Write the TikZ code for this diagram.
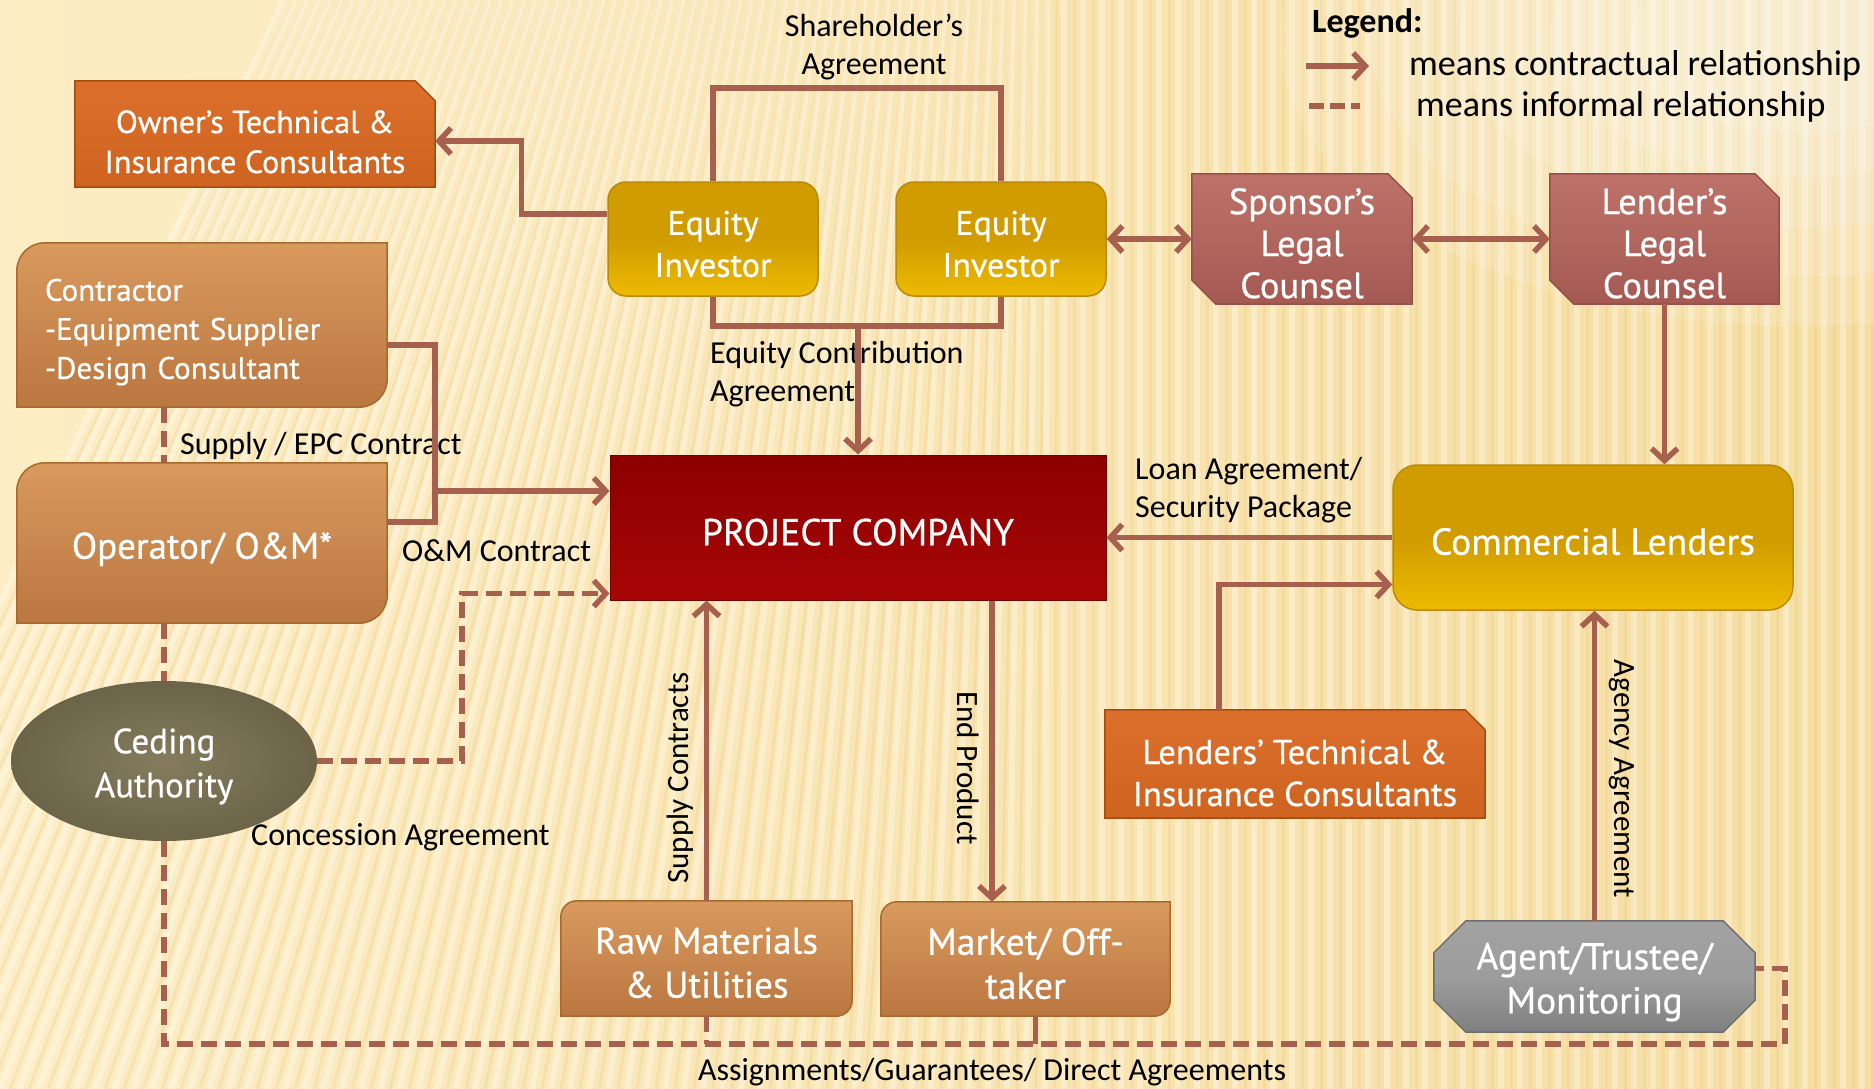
\documentclass[tikz,border=0pt]{standalone}
\usepackage{fontspec}
\setmainfont{Carlito}
\newfontfamily\boxfont[FakeBold=0.6]{PT Sans}
\usetikzlibrary{arrows.meta,shapes.geometric}

\definecolor{linkc}{HTML}{A8604E}
\definecolor{bgA}{HTML}{FCEDC4}
\definecolor{bgB}{HTML}{F6DEA2}
\definecolor{stripeD}{HTML}{E6C27A}
\definecolor{goldT}{HTML}{D09C00}
\definecolor{goldB}{HTML}{EDBA00}
\definecolor{goldE}{HTML}{B88A08}
\definecolor{redT}{HTML}{8C0000}
\definecolor{redB}{HTML}{A80606}
\definecolor{oraT}{HTML}{DC6F2C}
\definecolor{oraM}{HTML}{C4580F}
\definecolor{oraB}{HTML}{CE6420}
\definecolor{oraE}{HTML}{A24C0E}
\definecolor{tanT}{HTML}{D99A5E}
\definecolor{tanB}{HTML}{BA7740}
\definecolor{tanE}{HTML}{A8692F}
\definecolor{rosT}{HTML}{BD7269}
\definecolor{rosB}{HTML}{A45A53}
\definecolor{rosE}{HTML}{94504A}
\definecolor{oliI}{HTML}{857C5E}
\definecolor{oliO}{HTML}{6C6448}
\definecolor{gryT}{HTML}{A2A2A2}
\definecolor{gryB}{HTML}{808080}
\definecolor{gryE}{HTML}{6E6E6E}

\pgfdeclarelayer{backdrop}
\pgfdeclarelayer{boxes}
\pgfsetlayers{backdrop,boxes,main}

% invisible strut that sets the height of a box's first text line
\newcommand{\lineup}[1]{\rule{0pt}{#1}}

% box outlines built on the anchors of an (invisible) rectangular node
\newcommand{\diagroundbox}[3]{\path[#3] ([yshift=-#2]#1.north west)
  arc[start angle=180,end angle=90,radius=#2] -- (#1.north east)
  -- ([yshift=#2]#1.south east) arc[start angle=0,end angle=-90,radius=#2]
  -- (#1.south west) -- cycle;}
\newcommand{\cornerbox}[3]{\path[#3] (#1.north west) -- ([xshift=-#2]#1.north east)
  -- ([yshift=-#2]#1.north east) -- (#1.south east) -- (#1.south west) -- cycle;}
\newcommand{\twocutbox}[3]{\path[#3] (#1.north west) -- ([xshift=-#2]#1.north east)
  -- ([yshift=-#2]#1.north east) -- (#1.south east) -- ([xshift=#2]#1.south west)
  -- ([yshift=#2]#1.south west) -- cycle;}
\newcommand{\octbox}[3]{\path[#3] ([xshift=#2]#1.north west) -- ([xshift=-#2]#1.north east)
  -- ([yshift=-#2]#1.north east) -- ([yshift=#2]#1.south east)
  -- ([xshift=-#2]#1.south east) -- ([xshift=#2]#1.south west)
  -- ([yshift=#2]#1.south west) -- ([yshift=-#2]#1.north west) -- cycle;}

\begin{document}
\begin{tikzpicture}[x=1pt,y=-1pt,
  frame/.style={rectangle,inner sep=0pt,align=center,text=white},
  goldbox/.style={frame,rounded corners=18pt,top color=goldT,bottom color=goldB,
    middle color=goldT,draw=goldE,line width=1.5pt},
  orafill/.style={top color=oraT,middle color=oraM,bottom color=oraB,draw=oraE,line width=1.5pt},
  tanfill/.style={top color=tanT,bottom color=tanB,draw=tanE,line width=1.5pt},
  rosfill/.style={top color=rosT,bottom color=rosB,draw=rosE,line width=1.5pt},
  gryfill/.style={top color=gryT,bottom color=gryB,middle color=gryT!85!gryB,draw=gryE,line width=1.5pt},
  lbl/.style={inner sep=0pt,text=black,font=\fontsize{32}{38}\selectfont},
  rlbl/.style={inner sep=0pt,text=black,font=\fontsize{31}{36}\selectfont},
  link/.style={draw=linkc,line width=5.5pt},
  tip/.style={-{Straight Barb[length=12pt,width=26pt]}},
  arr/.style={link,tip},
  both/.style={link,{Straight Barb[length=12pt,width=26pt]}-{Straight Barb[length=12pt,width=26pt]}},
  dashlink/.style={link,dash pattern=on 16pt off 8pt},
]
\useasboundingbox (0,0) rectangle (1874,1089);

% ---------- backdrop: warm paper with soft stripes ----------
\begin{pgfonlayer}{backdrop}
\begin{scope}
\clip (0,0) rectangle (1874,1089);
\path[left color=bgA,right color=bgB] (0,0) rectangle (1874,1089);
\foreach \i in {-12,...,100}{
  \pgfmathsetmacro{\xb}{\i*19}
  \pgfmathsetmacro{\sh}{max(0,420*(1-\xb/1050))}
  \draw[white,opacity=0.32,line width=6pt] (\xb,1089) -- ({\xb+\sh},0);
  \draw[stripeD,opacity=0.22,line width=3pt] ({\xb+10},1089) -- ({\xb+10+\sh},0);
}
\foreach \r in {520,430,340,250,170}{
  \fill[white,opacity=0.13] (1800,40) ellipse[x radius=\r pt,y radius=\r*0.55pt];
}
\end{scope}
\end{pgfonlayer}

% ---------- nodes ----------
\node[frame,font=\boxfont\fontsize{32}{40}\selectfont,minimum width=360pt,minimum height=106pt] (own) at (255,134)
  {\lineup{1.2em}Owner’s Technical \&\\Insurance Consultants};
\node[goldbox,font=\boxfont\fontsize{34}{42}\selectfont,minimum width=210pt,minimum height=114pt] (ei1) at (713,239)
  {\lineup{1em}Equity\\Investor};
\node[goldbox,font=\boxfont\fontsize{34}{42}\selectfont,minimum width=210pt,minimum height=114pt] (ei2) at (1001,239)
  {\lineup{1em}Equity\\Investor};
\node[frame,font=\boxfont\fontsize{36.5}{42}\selectfont,minimum width=220pt,minimum height=130pt] (spl) at (1302,239)
  {\lineup{0.95em}Sponsor’s\\Legal\\Counsel};
\node[frame,font=\boxfont\fontsize{36.5}{42}\selectfont,minimum width=229pt,minimum height=130pt] (lpl) at (1664.5,239)
  {\lineup{0.95em}Lender’s\\Legal\\Counsel};
\node[frame,font=\boxfont\fontsize{31}{39}\selectfont,align=left,text width=314pt,
  minimum width=370pt,minimum height=164pt] (con) at (202,325)
  {\lineup{1.17em}Contractor\\-Equipment Supplier\\-Design Consultant};
\node[frame,font=\boxfont\fontsize{37}{44}\selectfont,minimum width=370pt,minimum height=160pt] (opr) at (202,543)
  {\lineup{1.05em}Operator/ O\&M*};
\node[frame,top color=redT,bottom color=redB,draw=redT!80!black,line width=1pt,
  font=\boxfont\fontsize{37.5}{42}\selectfont,minimum width=496pt,minimum height=145pt] (pc) at (858,527.5)
  {\lineup{0.96em}PROJECT COMPANY};
\node[goldbox,rounded corners=24pt,font=\boxfont\fontsize{37.5}{42}\selectfont,
  minimum width=400pt,minimum height=145pt] (cl) at (1593,537.5)
  {\lineup{0.93em}Commercial Lenders};
\node[ellipse,inner sep=0pt,align=center,text=white,font=\boxfont\fontsize{35}{44}\selectfont,
  minimum width=306pt,minimum height=160pt,inner color=oliI,outer color=oliO] (ca) at (164,761)
  {\lineup{1.02em}Ceding\\Authority};
\node[frame,font=\boxfont\fontsize{37}{44}\selectfont,minimum width=291pt,minimum height=115pt] (rm) at (706.5,958.5)
  {\lineup{0.94em}Raw Materials\\\& Utilities};
\node[frame,font=\boxfont\fontsize{37.5}{44}\selectfont,minimum width=289pt,minimum height=114pt] (mk) at (1025.5,959)
  {\lineup{0.96em}Market/ Off-\\taker};
\node[frame,font=\boxfont\fontsize{34.5}{42}\selectfont,minimum width=380pt,minimum height=108pt] (lt) at (1295,764)
  {\lineup{1.23em}Lenders’ Technical \&\\Insurance Consultants};
\node[frame,font=\boxfont\fontsize{37.5}{44}\selectfont,minimum width=321pt,minimum height=111pt] (ag) at (1594.5,976.5)
  {\lineup{1.01em}Agent/Trustee/\\Monitoring};

% ---------- box bodies ----------
\begin{pgfonlayer}{boxes}
\cornerbox{own}{20pt}{orafill}
\cornerbox{lt}{20pt}{orafill}
\twocutbox{spl}{24pt}{rosfill}
\twocutbox{lpl}{24pt}{rosfill}
\diagroundbox{con}{28pt}{tanfill}
\diagroundbox{opr}{28pt}{tanfill}
\diagroundbox{rm}{16pt}{tanfill}
\diagroundbox{mk}{16pt}{tanfill}
\octbox{ag}{32pt}{gryfill}
\end{pgfonlayer}

% ---------- labels ----------
\node[lbl,align=center] (sha) at (874,47) {Shareholder’s\\Agreement};
\node[lbl,align=left,anchor=west] (eca) at (710,374) {Equity Contribution\\Agreement};
\node[lbl,align=left,anchor=west] (loan) at (1135,490) {Loan Agreement/\\Security Package};
\node[lbl,anchor=west] (epc) at (180,446) {Supply / EPC Contract};
\node[lbl,anchor=west] (omc) at (402,551) {O\&M Contract};
\node[lbl,anchor=west] (conc) at (251,837) {Concession Agreement};
\node[rlbl,rotate=90] (supc) at (680,778) {Supply Contracts};
\node[rlbl,rotate=-90] (endp) at (968,768) {End Product};
\node[rlbl,rotate=-90] (agy) at (1622,779) {Agency Agreement};
\node[lbl] (asg) at (992,1072) {Assignments/Guarantees/ Direct Agreements};

% ---------- legend ----------
\node[inner sep=0pt,anchor=west,font=\bfseries\fontsize{34}{40}\selectfont] (leg) at (1312,23) {Legend:};
\coordinate (la1) at (1306,66);
\coordinate (la2) at (1369,66);
\draw[arr] (la1) -- (la2);
\node[inner sep=0pt,anchor=west,font=\fontsize{36}{40}\selectfont] (lg1) at (1409,66) {means contractual relationship};
\coordinate (ld1) at (1309,106);
\coordinate (ld2) at (1360,106);
\draw[link,dash pattern=on 15pt off 6pt] (ld1) -- (ld2);
\node[inner sep=0pt,anchor=west,font=\fontsize{36}{40}\selectfont] (lg2) at (1416,107) {means informal relationship};

% ---------- connectors ----------
% equity investors
\draw[arr] ([yshift=25pt]ei1.west) -- ++(-86,0) |- ([yshift=-7pt]own.east);
\draw[link] (ei1.north) -- ++(0,-93) -| (ei2.north);
\coordinate (ecb) at ([yshift=-29pt]ei1.south);
\draw[link] (ei1.south) -- (ecb) -| (ei2.south);
\draw[arr] (ecb -| pc.north) -- (pc.north);
\draw[both] (ei2.east) -- (spl.west);
\draw[both] (spl.east) -- (lpl.west);
% lenders
\draw[arr] (lpl.south) -- (lpl.south |- cl.north);
\draw[arr] (cl.west) -- (cl.west -| pc.east);
\draw[arr] ([xshift=-76pt]lt.north) |- ([yshift=-47pt]cl.west);
\draw[arr] (ag.north) -- (ag.north |- cl.south);
% contractor / operator
\coordinate (bus) at (435,491);
\draw[link] ([yshift=-20pt]con.east) -| (bus) |- ([yshift=21pt]opr.east);
\draw[arr] (bus) -- (bus -| pc.west);
\draw[dashlink] ([xshift=-38pt]con.south) -- ([xshift=-38pt]opr.north);
\draw[dashlink] (ca.north |- opr.south) -- (ca.north);
% ceding authority
\draw[dashlink,tip] (ca.east) -- ++(145,0) |- ([yshift=-66pt]pc.west);
% supplies and products
\draw[arr] (rm.north) -- (rm.north |- pc.south);
\coordinate (ep) at ([xshift=134pt]pc.south);
\draw[arr] (ep) -- (ep |- mk.north);
% direct agreements
\coordinate (bline) at (0,1044);
\coordinate (rx) at (1785,0);
\draw[dashlink] (ca.south) -- (ca.south |- bline) -- (rx |- bline) -- (rx |- ag.east)
  -- ([yshift=8pt]ag.east -| rx) -- ([yshift=8pt]ag.east);
\draw[dashlink] (rm.south) -- (rm.south |- bline);
\draw[link] ([xshift=10pt]mk.south) -- ([xshift=10pt]mk.south |- bline);
\end{tikzpicture}
\end{document}
